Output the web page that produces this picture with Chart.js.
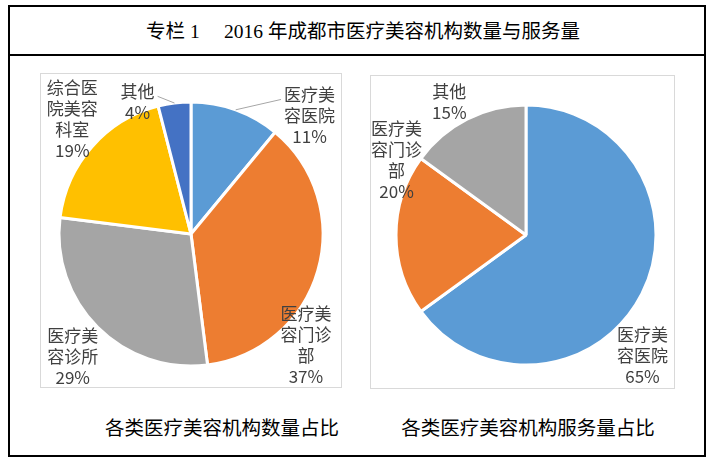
<!DOCTYPE html>
<html>
<head>
<meta charset="utf-8">
<script src="https://cdn.jsdelivr.net/npm/chart.js@4/dist/chart.umd.min.js"></script>
<style>
  body { margin: 0; background: #fff; width: 728px; height: 467px; position: relative; overflow: hidden; }
  .frame { position: absolute; left: 8px; top: 5px; width: 698px; height: 452px; border: 2px solid #000; box-sizing: border-box; }
  .title { position: absolute; left: 8px; top: 5px; width: 698px; height: 51px; border-bottom: 2px solid #000; box-sizing: border-box;
           display: flex; align-items: center; justify-content: center; padding-left: 12px;
           font: 19.5px "Liberation Serif", "Noto Sans CJK SC", serif; color: #000; white-space: pre; }
  .box { position: absolute; border: 1px solid #d9d9d9; box-sizing: border-box; }
  canvas { position: absolute; }
  .caption { position: absolute; top: 412px; font: 19.5px "Noto Sans CJK SC", sans-serif; color: #000; text-align: center; width: 300px; }
</style>
</head>
<body>
<div class="frame"></div>
<div class="title">专栏 1　 2016 年成都市医疗美容机构数量与服务量</div>

<div class="box" style="left:40px; top:73px; width:302px; height:315px;"></div>
<canvas id="countChart" width="302" height="315" style="left:40px; top:73px;"></canvas>

<div class="box" style="left:370px; top:75px; width:305px; height:314px;"></div>
<canvas id="serviceChart" width="305" height="314" style="left:370px; top:75px;"></canvas>

<div class="caption" style="left:72px;">各类医疗美容机构数量占比</div>
<div class="caption" style="left:378px;">各类医疗美容机构服务量占比</div>

<script>
// datos: número de instituciones (%)
const countCategories = ['医疗美容医院', '医疗美容门诊部', '医疗美容诊所', '综合医院美容科室', '其他'];
const countValues     = [11, 37, 29, 19, 4];
const countColors     = ['#5b9bd5', '#ed7d31', '#a5a5a5', '#ffc000', '#4472c4'];

// datos: volumen de servicio (%)
const serviceCategories = ['医疗美容医院', '医疗美容门诊部', '其他'];
const serviceValues     = [65, 20, 15];
const serviceColors     = ['#5b9bd5', '#ed7d31', '#a5a5a5'];

// colocación de etiquetas: [ángulo desde arriba, distancia / radio, línea guía]
const countPlaces   = [[45, 1.27, true], [134, 1.21, false], [224, 1.29, false], [314, 1.25, false], [338, 1.08, true]];
const servicePlaces = [[136, 1.29, false], [300, 1.15, false], [330, 1.18, false]];

// parte el nombre cada 3 caracteres, como en el original
function splitName(name) {
  const out = [];
  for (let i = 0; i < name.length; i += 3) out.push(name.slice(i, i + 3));
  return out;
}

const sliceLabels = {
  id: 'sliceLabels',
  afterDatasetsDraw(chart, args, opts) {
    const ctx  = chart.ctx;
    const meta = chart.getDatasetMeta(0);
    const vals = chart.data.datasets[0].data;
    const lh   = 21;
    ctx.save();
    ctx.font = '17px "Noto Sans CJK SC", sans-serif';
    ctx.fillStyle = '#404040';
    ctx.textAlign = 'center';
    ctx.textBaseline = 'middle';
    meta.data.forEach((arc, i) => {
      const place = opts.places[i];
      const r  = arc.outerRadius;
      const a  = (place[0] - 90) * Math.PI / 180;
      const cx = arc.x + Math.cos(a) * r * place[1];
      const cy = arc.y + Math.sin(a) * r * place[1];
      const lines = splitName(chart.data.labels[i]).concat(vals[i] + '%');
      const top = cy - lines.length * lh / 2;
      let maxW = 0;
      lines.forEach((t, k) => {
        maxW = Math.max(maxW, ctx.measureText(t).width);
        ctx.fillText(t, cx, top + lh / 2 + k * lh);
      });
      if (place[2]) {
        const mid = (arc.startAngle + arc.endAngle) / 2;
        const ex = arc.x + Math.cos(mid) * r;
        const ey = arc.y + Math.sin(mid) * r;
        const lx = ex < cx ? cx - maxW / 2 - 3 : cx + maxW / 2 + 3;
        const ly = top + lh / 2 + 5;
        ctx.strokeStyle = '#a6a6a6';
        ctx.lineWidth = 1;
        ctx.beginPath();
        ctx.moveTo(ex, ey);
        ctx.lineTo(lx, ly);
        ctx.stroke();
      }
    });
    ctx.restore();
  }
};

function makePie(id, labels, values, colors, places, radius, padding) {
  const ctx = document.getElementById(id).getContext('2d');
  return new Chart(ctx, {
    type: 'pie',
    data: { labels: labels, datasets: [{ data: values, backgroundColor: colors, borderColor: '#fff', borderWidth: 3 }] },
    options: {
      responsive: false,
      animation: false,
      radius: radius,
      layout: { padding: padding },
      plugins: {
        legend: { display: false },
        tooltip: { enabled: false },
        sliceLabels: { places: places }
      }
    },
    plugins: [sliceLabels]
  });
}

makePie('countChart', countCategories, countValues, countColors, countPlaces, 132, { top: 7 });
makePie('serviceChart', serviceCategories, serviceValues, serviceColors, servicePlaces, 130, { top: 6, left: 7 });
</script>
</body>
</html>
